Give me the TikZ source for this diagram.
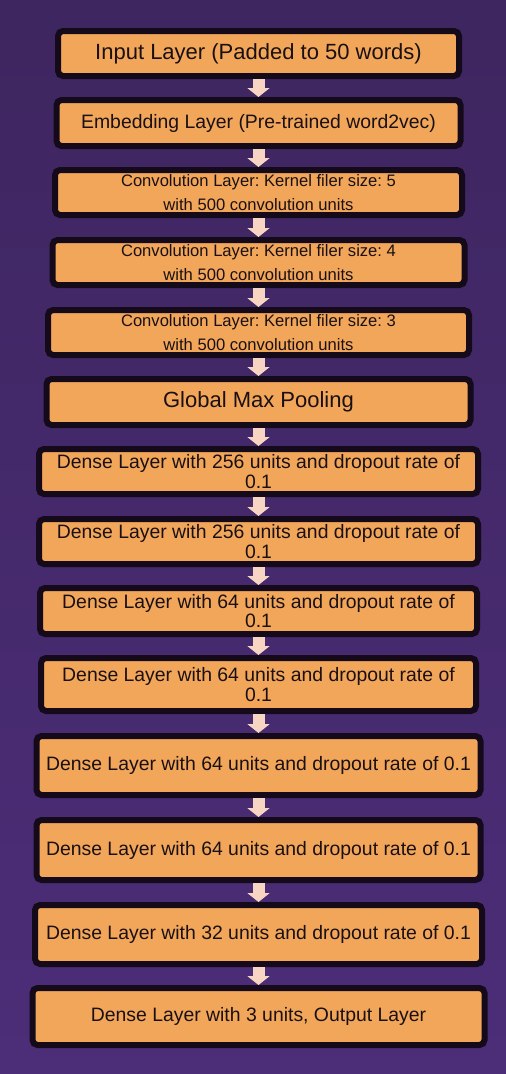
\documentclass[tikz,border=0pt]{standalone}
\usepackage{fontspec}
\setmainfont{Liberation Sans}
\usetikzlibrary{arrows.meta}
\definecolor{bgtop}{HTML}{3E2660}
\definecolor{bgbot}{HTML}{4C2D78}
\definecolor{boxfill}{HTML}{F2A65A}
\definecolor{boxline}{HTML}{140A1A}
\definecolor{arrowcol}{HTML}{F8D5C2}
\definecolor{txt}{HTML}{1A1012}
\frenchspacing
\tikzset{
  layerbox/.style={draw=boxline, fill=boxfill, line width=6pt, rounded corners=5pt,
    inner sep=0pt, align=center, text=txt},
  bigtext/.style={font=\fontsize{22}{24}\selectfont},
  embtext/.style={font=\fontsize{19.4}{22}\selectfont},
  convtext/.style={font=\fontsize{16.6}{23.3}\selectfont},
  densetext/.style={font=\fontsize{19.4}{19.5}\selectfont},
  flowarrow/.style={draw=arrowcol, line width=12pt, -{Triangle[width=22pt,length=9pt]}},
}
\begin{document}
\begin{tikzpicture}[x=1pt,y=-1pt]
\shade[top color=bgtop, bottom color=bgbot] (0,0) rectangle (506,1074);
\useasboundingbox (0,0) rectangle (506,1074);

\node[layerbox,bigtext,minimum width=401pt,minimum height=45pt] (b1) at (258.5,53.5) {Input Layer (Padded to 50 words)};
\node[layerbox,embtext,minimum width=404pt,minimum height=46pt] (b2) at (258.5,123) {Embedding Layer (Pre-trained word2vec)};
\node[layerbox,convtext,minimum width=407pt,minimum height=45pt] (b3) at (258.5,192.5) {Convolution Layer: Kernel filer size: 5\\with 500 convolution units};
\node[layerbox,convtext,minimum width=412pt,minimum height=45pt] (b4) at (258.5,262.5) {Convolution Layer: Kernel filer size: 4\\with 500 convolution units};
\node[layerbox,convtext,minimum width=421pt,minimum height=45pt] (b5) at (258.5,332.5) {Convolution Layer: Kernel filer size: 3\\with 500 convolution units};
\node[layerbox,bigtext,minimum width=424pt,minimum height=46pt] (b6) at (258.5,402) {Global Max Pooling};
\node[layerbox,densetext,minimum width=439pt,minimum height=45pt] (b7) at (258.5,471.5) {Dense Layer with 256 units and dropout rate of\\0.1};
\node[layerbox,densetext,minimum width=439pt,minimum height=45pt] (b8) at (258.5,541.5) {Dense Layer with 256 units and dropout rate of\\0.1};
\node[layerbox,densetext,minimum width=437pt,minimum height=46pt] (b9) at (258.5,611) {Dense Layer with 64 units and dropout rate of\\0.1};
\node[layerbox,densetext,minimum width=435pt,minimum height=53pt] (b10) at (258.5,684.5) {Dense Layer with 64 units and dropout rate of\\0.1};
\node[layerbox,densetext,minimum width=444pt,minimum height=59pt] (b11) at (258.5,765.5) {Dense Layer with 64 units and dropout rate of 0.1};
\node[layerbox,densetext,minimum width=444pt,minimum height=60pt] (b12) at (258.5,850) {Dense Layer with 64 units and dropout rate of 0.1};
\node[layerbox,densetext,minimum width=447pt,minimum height=59pt] (b13) at (258.5,934.5) {Dense Layer with 32 units and dropout rate of 0.1};
\node[layerbox,densetext,minimum width=452pt,minimum height=57pt] (b14) at (258.5,1016.5) {Dense Layer with 3 units, Output Layer};

\foreach \a/\b in {b1/b2,b2/b3,b3/b4,b4/b5,b5/b6,b6/b7,b7/b8,b8/b9,b9/b10,b10/b11,b11/b12,b12/b13,b13/b14}{
  \draw[flowarrow] (\a.south) -- (\a.south |- \b.north);
}
\end{tikzpicture}
\end{document}
